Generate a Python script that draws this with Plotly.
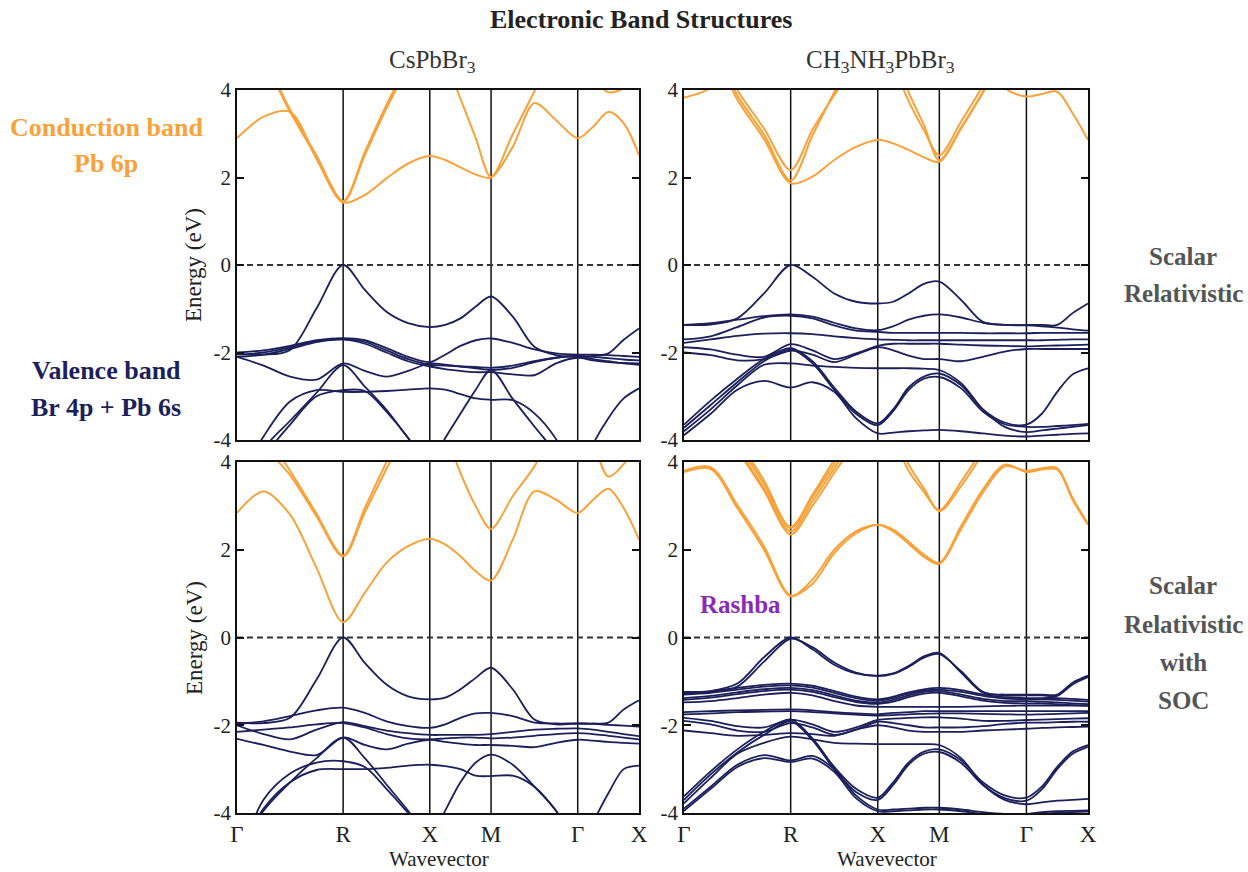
import plotly.graph_objects as go

W, H = 1248, 872

# k-path sampling (path length units along Γ-R-X-M-Γ-X)
K_GRID = [0.0, 0.2165, 0.433, 0.6495, 0.866,
          1.0428, 1.2195, 1.3963, 1.573,
          1.698, 1.823, 1.948, 2.073,
          2.2498, 2.4265, 2.6033, 2.780,
          2.905, 3.030, 3.155, 3.280]
K_TICKS = [0.0, 0.866, 1.573, 2.073, 2.780, 3.280]
K_LABELS = ["Γ", "R", "X", "M", "Γ", "X"]
Y_TICKS = [-4, -2, 0, 2, 4]
Y_LABELS = ["-4", "-2", "0", "2", "4"]

# ---------------- CsPbBr3, scalar relativistic ----------------
CS_SR_CB = [
    [2.90, 3.39, 3.50, 2.42, 1.43, 1.60, 1.98, 2.32, 2.49, 2.40, 2.23, 2.07, 2.00, 2.70, 3.70, 3.31, 2.90, 3.16, 3.50, 3.24, 2.51],
    [5.0, 4.6, 3.50, 2.45, 1.44, 2.51, 3.58, 4.5, 5.2, 4.66, 3.80, 2.90, 2.01, 2.99, 3.97, 5.0, 5.0, 4.3, 3.95, 4.05, 4.6],
    [5.3, 4.7, 3.55, 2.50, 1.46, 2.58, 3.66, 4.6, 5.3, 5.3, 5.3, 5.3, 5.3, 5.3, 5.3, 5.3, 5.3, 5.3, 5.3, 5.3, 5.3],
]
CS_SR_VB = [
    [-2.03, -2.05, -1.94, -0.99, 0.0, -0.57, -1.07, -1.33, -1.42, -1.37, -1.22, -0.95, -0.72, -1.18, -1.87, -2.06, -2.10, -2.08, -2.02, -1.71, -1.45],
    [-2.00, -1.95, -1.85, -1.72, -1.67, -1.72, -1.90, -2.10, -2.22, -2.05, -1.85, -1.72, -1.68, -1.78, -1.93, -2.02, -2.05, -2.05, -2.06, -2.08, -2.10],
    [-2.05, -2.00, -1.88, -1.74, -1.70, -1.76, -1.95, -2.15, -2.28, -2.30, -2.32, -2.33, -2.35, -2.30, -2.20, -2.12, -2.08, -2.10, -2.13, -2.16, -2.18],
    [-2.10, -2.05, -1.92, -1.76, -1.70, -1.80, -2.00, -2.20, -2.32, -2.38, -2.42, -2.45, -2.45, -2.50, -2.52, -2.25, -2.12, -2.18, -2.22, -2.24, -2.25],
    [-2.10, -2.30, -2.55, -2.62, -2.25, -2.42, -2.55, -2.42, -2.25, -2.28, -2.32, -2.36, -2.40, -2.35, -2.22, -2.12, -2.08, -2.15, -2.20, -2.25, -2.28],
    [-5.0, -3.92, -3.12, -2.86, -2.90, -2.90, -2.88, -2.85, -2.82, -2.85, -2.95, -3.05, -3.08, -3.09, -3.39, -3.98, -5.0, -5.0, -5.0, -5.0, -5.0],
    [-5.3, -4.2, -3.56, -2.92, -2.29, -2.78, -3.31, -3.96, -4.6, -3.96, -3.40, -2.85, -2.40, -3.06, -3.69, -4.3, -5.0, -4.1, -3.5, -3.05, -2.82],
    [-5.5, -4.4, -3.65, -3.0, -2.86, -2.88, -3.35, -3.95, -4.7, -5.0, -5.0, -5.0, -5.0, -5.0, -5.0, -5.0, -5.0, -5.0, -5.0, -5.0, -5.0],
]

# ---------------- CH3NH3PbBr3, scalar relativistic ----------------
MA_SR_CB = [
    [5.5, 5.0, 3.78, 2.88, 1.87, 2.02, 2.40, 2.70, 2.86, 2.78, 2.63, 2.46, 2.36, 3.12, 3.94, 4.8, 5.5, 5.5, 5.5, 5.5, 5.5],
    [5.6, 5.1, 3.88, 2.98, 1.93, 2.96, 3.95, 4.9, 5.5, 4.6, 3.75, 3.08, 2.51, 3.28, 4.10, 5.0, 5.5, 5.5, 5.5, 5.5, 5.5],
    [5.7, 5.2, 4.00, 3.12, 2.17, 3.09, 3.88, 4.6, 5.3, 4.9, 3.95, 3.20, 2.40, 3.14, 3.96, 5.0, 5.5, 5.5, 5.5, 5.5, 5.5],
    [3.83, 4.05, 4.8, 5.5, 5.5, 5.5, 5.5, 5.5, 5.5, 5.5, 5.5, 5.5, 5.5, 5.5, 5.0, 4.05, 3.85, 3.91, 3.96, 3.47, 2.86],
]
MA_SR_VB = [
    [-1.37, -1.36, -1.22, -0.65, 0.0, -0.27, -0.65, -0.84, -0.88, -0.84, -0.65, -0.43, -0.38, -0.80, -1.30, -1.37, -1.37, -1.37, -1.37, -1.10, -0.88],
    [-1.37, -1.33, -1.25, -1.17, -1.13, -1.18, -1.32, -1.45, -1.49, -1.40, -1.25, -1.16, -1.13, -1.20, -1.32, -1.37, -1.38, -1.40, -1.43, -1.47, -1.50],
    [-1.70, -1.63, -1.42, -1.20, -1.16, -1.22, -1.38, -1.50, -1.53, -1.55, -1.55, -1.55, -1.55, -1.55, -1.56, -1.56, -1.56, -1.55, -1.55, -1.55, -1.55],
    [-1.78, -1.70, -1.62, -1.57, -1.56, -1.58, -1.63, -1.67, -1.70, -1.71, -1.72, -1.72, -1.72, -1.72, -1.72, -1.72, -1.72, -1.72, -1.71, -1.70, -1.70],
    [-1.88, -1.93, -2.05, -2.10, -1.81, -1.95, -2.15, -2.02, -1.85, -1.80, -1.80, -1.80, -1.80, -1.82, -1.84, -1.85, -1.86, -1.85, -1.84, -1.83, -1.82],
    [-2.00, -2.06, -2.18, -2.15, -1.96, -2.05, -2.22, -2.05, -1.88, -1.95, -2.07, -2.15, -2.15, -2.20, -2.10, -1.98, -1.92, -1.92, -1.92, -1.92, -1.92],
    [-3.65, -3.10, -2.60, -2.15, -1.90, -2.20, -2.80, -3.35, -3.62, -3.30, -2.80, -2.55, -2.48, -2.75, -3.30, -3.60, -3.65, -3.40, -2.90, -2.50, -2.36],
    [-3.80, -3.30, -2.75, -2.28, -2.25, -2.30, -2.33, -2.35, -2.36, -2.36, -2.36, -2.37, -2.40, -2.70, -3.30, -3.70, -3.82, -3.78, -3.74, -3.70, -3.66],
    [-3.89, -3.40, -2.85, -2.65, -2.80, -2.68, -2.90, -3.50, -3.85, -3.83, -3.80, -3.78, -3.77, -3.80, -3.85, -3.90, -3.92, -3.90, -3.88, -3.86, -3.85],
    [-3.72, -3.20, -2.68, -2.20, -1.93, -2.25, -2.85, -3.40, -3.66, -3.34, -2.86, -2.60, -2.56, -2.82, -3.35, -3.64, -3.70, -3.70, -3.68, -3.66, -3.63],
]

# ---------------- CsPbBr3, with SOC ----------------
CS_SOC_CB = [
    [2.84, 3.33, 2.80, 1.58, 0.35, 1.02, 1.70, 2.08, 2.25, 2.12, 1.85, 1.51, 1.30, 2.23, 3.33, 3.14, 2.84, 3.14, 3.39, 2.95, 2.23],
    [5.5, 4.4, 3.70, 2.76, 1.85, 2.85, 3.84, 4.8, 5.5, 4.7, 3.75, 2.99, 2.48, 3.22, 3.90, 4.8, 5.5, 4.5, 3.67, 3.95, 4.6],
    [5.5, 4.7, 3.80, 2.82, 1.87, 2.95, 4.00, 5.0, 5.5, 5.5, 5.5, 5.5, 5.5, 5.5, 5.5, 5.5, 5.5, 5.5, 5.5, 5.5, 5.5],
]
CS_SOC_VB = [
    [-1.94, -1.95, -1.83, -0.96, 0.0, -0.58, -1.07, -1.34, -1.41, -1.37, -1.18, -0.92, -0.69, -1.18, -1.87, -1.98, -1.96, -1.96, -1.94, -1.64, -1.43],
    [-1.97, -1.91, -1.79, -1.66, -1.60, -1.72, -1.91, -2.02, -2.06, -1.98, -1.83, -1.73, -1.72, -1.79, -1.94, -1.96, -1.96, -1.97, -1.99, -2.01, -2.03],
    [-2.00, -2.20, -2.32, -2.10, -1.93, -2.02, -2.12, -2.18, -2.22, -2.22, -2.22, -2.22, -2.20, -2.15, -2.10, -2.08, -2.07, -2.10, -2.15, -2.20, -2.25],
    [-2.31, -2.45, -2.60, -2.68, -2.28, -2.45, -2.55, -2.42, -2.33, -2.38, -2.42, -2.45, -2.45, -2.47, -2.50, -2.40, -2.33, -2.35, -2.38, -2.40, -2.42],
    [-5.0, -3.95, -3.30, -2.75, -2.28, -2.75, -3.35, -3.95, -4.6, -3.95, -3.30, -2.85, -2.67, -2.90, -3.40, -3.95, -4.8, -4.2, -3.55, -3.00, -2.92],
    [-5.0, -3.90, -3.30, -3.02, -3.00, -3.00, -2.97, -2.92, -2.90, -2.93, -3.00, -3.15, -3.16, -3.15, -3.40, -3.95, -4.7, -5.0, -5.0, -5.0, -5.0],
    [-5.2, -3.70, -3.10, -2.85, -2.82, -2.95, -3.45, -4.00, -4.6, -5.0, -5.0, -5.0, -5.0, -5.0, -5.0, -5.0, -5.0, -5.0, -5.0, -5.0, -5.0],
    [-2.15, -2.10, -2.05, -1.98, -1.95, -2.05, -2.20, -2.30, -2.32, -2.30, -2.28, -2.28, -2.30, -2.28, -2.24, -2.20, -2.18, -2.20, -2.24, -2.28, -2.32],
]

# ---------------- CH3NH3PbBr3, with SOC ----------------
MA_SOC_CB = [
    [3.77, 3.84, 2.95, 2.00, 0.94, 1.32, 2.00, 2.42, 2.57, 2.46, 2.19, 1.89, 1.70, 2.54, 3.37, 3.94, 3.77, 3.83, 3.83, 3.14, 2.57],
    [3.80, 3.88, 3.02, 2.08, 0.96, 1.22, 1.92, 2.37, 2.57, 2.42, 2.14, 1.84, 1.68, 2.47, 3.30, 3.90, 3.80, 3.86, 3.86, 3.18, 2.59],
    [6.0, 5.5, 4.30, 3.35, 2.35, 3.00, 3.75, 4.5, 5.5, 4.6, 3.80, 3.32, 2.90, 3.55, 4.30, 5.0, 5.5, 5.5, 5.5, 5.5, 5.5],
    [6.0, 5.5, 4.35, 3.40, 2.42, 3.10, 3.85, 4.6, 5.5, 4.8, 3.95, 3.40, 2.88, 3.45, 4.20, 5.0, 5.5, 5.5, 5.5, 5.5, 5.5],
    [6.0, 5.6, 4.45, 3.50, 2.50, 3.20, 3.95, 4.7, 5.5, 5.5, 5.5, 5.5, 5.5, 5.5, 5.5, 5.5, 5.5, 5.5, 5.5, 5.5, 5.5],
    [6.0, 5.7, 4.55, 3.58, 2.52, 3.25, 4.05, 4.8, 5.5, 5.5, 5.5, 5.5, 5.5, 5.5, 5.5, 5.5, 5.5, 5.5, 5.5, 5.5, 5.5],
]
MA_SOC_VB = [
    [-1.24, -1.22, -1.05, -0.45, 0.0, -0.27, -0.62, -0.82, -0.87, -0.82, -0.65, -0.43, -0.35, -0.80, -1.26, -1.30, -1.30, -1.30, -1.30, -1.03, -0.87],
    [-1.27, -1.25, -1.12, -0.55, -0.03, -0.22, -0.57, -0.80, -0.88, -0.83, -0.67, -0.46, -0.38, -0.77, -1.24, -1.32, -1.32, -1.32, -1.33, -1.07, -0.90],
    [-1.26, -1.22, -1.15, -1.08, -1.05, -1.10, -1.22, -1.35, -1.41, -1.35, -1.25, -1.18, -1.15, -1.20, -1.30, -1.36, -1.38, -1.38, -1.38, -1.40, -1.42],
    [-1.30, -1.26, -1.19, -1.12, -1.09, -1.14, -1.26, -1.38, -1.44, -1.38, -1.28, -1.21, -1.19, -1.24, -1.33, -1.39, -1.41, -1.41, -1.42, -1.44, -1.46],
    [-1.38, -1.33, -1.25, -1.18, -1.15, -1.20, -1.32, -1.44, -1.48, -1.42, -1.32, -1.24, -1.22, -1.30, -1.40, -1.45, -1.45, -1.46, -1.48, -1.50, -1.52],
    [-1.42, -1.37, -1.29, -1.22, -1.19, -1.24, -1.36, -1.47, -1.51, -1.46, -1.36, -1.28, -1.26, -1.34, -1.44, -1.49, -1.50, -1.50, -1.52, -1.54, -1.56],
    [-1.48, -1.45, -1.38, -1.30, -1.26, -1.32, -1.45, -1.55, -1.58, -1.58, -1.58, -1.58, -1.58, -1.58, -1.57, -1.56, -1.55, -1.55, -1.55, -1.55, -1.55],
    [-1.70, -1.68, -1.66, -1.65, -1.64, -1.66, -1.70, -1.73, -1.75, -1.72, -1.70, -1.68, -1.68, -1.68, -1.68, -1.68, -1.68, -1.68, -1.68, -1.68, -1.68],
    [-1.75, -1.73, -1.70, -1.69, -1.68, -1.70, -1.73, -1.76, -1.78, -1.77, -1.75, -1.74, -1.73, -1.73, -1.74, -1.75, -1.76, -1.75, -1.74, -1.73, -1.72],
    [-1.83, -1.90, -2.02, -2.05, -1.87, -1.98, -2.15, -2.05, -1.88, -1.85, -1.83, -1.82, -1.82, -1.85, -1.90, -1.90, -1.88, -1.87, -1.86, -1.85, -1.84],
    [-1.90, -1.98, -2.12, -2.15, -1.95, -2.05, -2.22, -2.10, -1.92, -1.95, -2.00, -2.05, -2.05, -2.05, -2.02, -1.97, -1.94, -1.94, -1.93, -1.92, -1.92],
    [-2.12, -2.18, -2.24, -2.22, -2.18, -2.20, -2.24, -2.10, -2.00, -2.05, -2.12, -2.15, -2.15, -2.15, -2.12, -2.10, -2.08, -2.06, -2.05, -2.04, -2.03],
    [-3.78, -3.20, -2.65, -2.40, -2.26, -2.32, -2.40, -2.42, -2.43, -2.43, -2.43, -2.43, -2.45, -2.75, -3.35, -3.70, -3.80, -3.76, -3.72, -3.70, -3.68],
    [-3.62, -3.05, -2.55, -2.15, -1.87, -2.30, -2.95, -3.45, -3.65, -3.30, -2.85, -2.60, -2.55, -2.80, -3.30, -3.60, -3.65, -3.40, -2.95, -2.60, -2.45],
    [-3.70, -3.12, -2.62, -2.22, -1.91, -2.34, -3.00, -3.52, -3.70, -3.36, -2.90, -2.65, -2.61, -2.86, -3.36, -3.66, -3.72, -3.46, -3.00, -2.65, -2.49],
    [-3.90, -3.40, -2.90, -2.68, -2.80, -2.70, -3.00, -3.60, -3.92, -3.92, -3.90, -3.88, -3.88, -3.92, -3.98, -4.02, -4.02, -3.98, -3.96, -3.95, -3.94],
    [-3.95, -3.45, -2.95, -2.75, -2.84, -2.76, -3.06, -3.66, -3.96, -3.96, -3.94, -3.92, -3.92, -3.96, -4.02, -4.06, -4.06, -4.02, -4.00, -3.98, -3.97],
]

CB_COLOR = "#F7A23A"
VB_COLOR = "#1C1F5A"
FONT = "Liberation Serif"

# panel pixel boxes: (left, right, top, bottom)
PANELS = {
    "tl": (237, 639, 90, 440),
    "tr": (684, 1088, 90, 440),
    "bl": (237, 639, 462, 813),
    "br": (684, 1088, 462, 813),
}
AX = {"tl": ("x", "y", ""), "tr": ("x2", "y2", "2"), "bl": ("x3", "y3", "3"), "br": ("x4", "y4", "4")}
DATA = {
    "tl": (CS_SR_CB, CS_SR_VB),
    "tr": (MA_SR_CB, MA_SR_VB),
    "bl": (CS_SOC_CB, CS_SOC_VB),
    "br": (MA_SOC_CB, MA_SOC_VB),
}

fig = go.Figure()
layout = dict(
    width=W, height=H, autosize=False,
    margin=dict(l=0, r=0, t=0, b=0, pad=0, autoexpand=False),
    paper_bgcolor="white", plot_bgcolor="white", showlegend=False,
    font=dict(family=FONT, color="#222"),
)
shapes = []
for key, (l, r, t, b) in PANELS.items():
    xa, ya, sfx = AX[key]
    cb, vb = DATA[key]
    for band in vb:
        fig.add_trace(go.Scatter(x=K_GRID, y=band, mode="lines", xaxis=xa, yaxis=ya,
                                 line=dict(color=VB_COLOR, width=1.8, shape="spline", smoothing=0.9),
                                 hoverinfo="skip"))
    for band in cb:
        fig.add_trace(go.Scatter(x=K_GRID, y=band, mode="lines", xaxis=xa, yaxis=ya,
                                 line=dict(color=CB_COLOR, width=2.0, shape="spline", smoothing=0.9),
                                 hoverinfo="skip"))
    bottom = key in ("bl", "br")
    layout["xaxis" + sfx] = dict(
        domain=[l / W, r / W], anchor=ya, range=[K_TICKS[0], K_TICKS[-1]], automargin=False,
        showgrid=False, zeroline=False, showline=True, linecolor="#111", linewidth=1.6, mirror=True,
        tickvals=K_TICKS, ticktext=K_LABELS, ticks="", showticklabels=bottom,
        tickfont=dict(family=FONT, size=23, color="#222"),
    )
    layout["yaxis" + sfx] = dict(
        domain=[1 - b / H, 1 - t / H], anchor=xa, range=[-4, 4], automargin=False,
        showgrid=False, zeroline=False, showline=True, linecolor="#111", linewidth=1.6, mirror="ticks",
        tickvals=Y_TICKS, ticktext=Y_LABELS, ticks="inside", ticklen=7, tickwidth=1.6, tickcolor="#111",
        tickfont=dict(family=FONT, size=21, color="#222"),
    )
    for kv in K_TICKS[1:-1]:
        shapes.append(dict(type="line", xref=xa, yref=ya + " domain", x0=kv, x1=kv, y0=0, y1=1,
                           line=dict(color="#111", width=1.5), layer="below"))
    shapes.append(dict(type="line", xref=xa + " domain", yref=ya, x0=0, x1=1, y0=0, y1=0,
                       line=dict(color="#333", width=2, dash="6px,4px"), layer="below"))

def ann(text, px, py, size, color="#222", bold=False, angle=0):
    return dict(text=("<b>%s</b>" % text) if bold else text, x=px / W, y=1 - py / H,
                xref="paper", yref="paper", showarrow=False, xanchor="center", yanchor="middle",
                textangle=angle, font=dict(family=FONT, size=size, color=color))

annotations = [
    ann("Electronic Band Structures", 641, 20, 26, "#222", True),
    ann("CsPbBr<sub>3</sub>", 432, 62, 25, "#333"),
    ann("CH<sub>3</sub>NH<sub>3</sub>PbBr<sub>3</sub>", 880, 62, 25, "#333"),
    ann("Conduction band", 106, 127, 26, CB_COLOR, True),
    ann("Pb 6p", 106, 163, 26, CB_COLOR, True),
    ann("Valence band", 106, 370, 26, VB_COLOR, True),
    ann("Br 4p + Pb 6s", 106, 407, 26, VB_COLOR, True),
    ann("Scalar", 1183, 256, 25, "#555", True),
    ann("Relativistic", 1183, 293, 25, "#555", True),
    ann("Scalar", 1183, 585, 25, "#555", True),
    ann("Relativistic", 1183, 624, 25, "#555", True),
    ann("with", 1183, 662, 25, "#555", True),
    ann("SOC", 1183, 700, 25, "#555", True),
    ann("Rashba", 740, 604, 25, "#8A2BB8", True),
    ann("Energy (eV)", 194, 265, 23, "#222", False, -90),
    ann("Energy (eV)", 194, 638, 23, "#222", False, -90),
    ann("Wavevector", 439, 859, 21, "#222"),
    ann("Wavevector", 887, 859, 21, "#222"),
]
layout["shapes"] = shapes
layout["annotations"] = annotations
fig.update_layout(**layout)
fig.write_html("out.html")
